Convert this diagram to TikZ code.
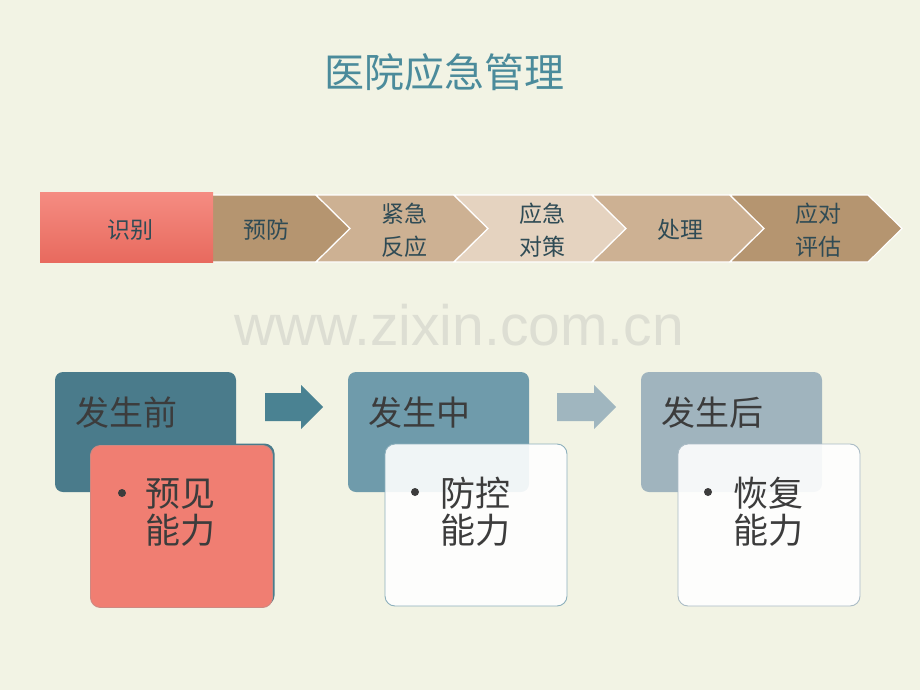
\documentclass[tikz,border=0pt]{standalone}
\usepackage{fontspec}
\setmainfont{Noto Sans CJK SC}
\newfontfamily\wmfont{Liberation Sans}
\usetikzlibrary{positioning, calc}
\definecolor{paper}{HTML}{F2F3E4}
\definecolor{titleteal}{HTML}{4B8B9B}
\definecolor{steptext}{HTML}{2F4B55}
\definecolor{coraltop}{HTML}{F58C82}
\definecolor{coralbot}{HTML}{E86A5E}
\definecolor{tandark}{HTML}{B59570}
\definecolor{tanmid}{HTML}{CDB193}
\definecolor{tanlight}{HTML}{E5D3C0}
\definecolor{tealdark}{HTML}{4A7B8B}
\definecolor{tealmid}{HTML}{6F9BAB}
\definecolor{tealpale}{HTML}{A0B4BE}
\definecolor{arrowone}{HTML}{4A8292}
\definecolor{arrowtwo}{HTML}{A0B6BF}
\definecolor{coralbox}{HTML}{F07E72}
\definecolor{bodytext}{HTML}{3C3C3C}
\definecolor{wmgray}{HTML}{DDDED3}

\begin{document}
\begin{tikzpicture}[
  x=1pt, y=-1pt,
  chev/.style={draw=white, line width=1.2pt},
  chevtxt/.style={align=center, text=steptext, font=\fontsize{23}{33}\selectfont},
  redbox/.style={minimum width=173pt, minimum height=70pt, inner sep=0pt, top color=coraltop, bottom color=coralbot},
  backbox/.style={rounded corners=8pt, minimum width=181pt, minimum height=120pt, inner sep=0pt},
  frontbox/.style={rounded corners=10pt, minimum width=182pt, minimum height=162pt, inner sep=0pt, line width=0.9pt},
  lbl/.style={anchor=west, inner sep=0pt, text=bodytext, font=\fontsize{34}{40}\selectfont},
  bodytxt/.style={anchor=west, inner sep=0pt, align=left, text=bodytext, font=\fontsize{35}{37}\selectfont},
  bulletdot/.style={circle, fill=bodytext, minimum size=8pt, inner sep=0pt}
]
  \fill[paper] (0,0) rectangle (920,690);
  \useasboundingbox (0,0) rectangle (920,690);

  % title and watermark
  \node[text=titleteal, font=\fontsize{40}{48}\selectfont] (title) at (444,72) {医院应急管理};
  \node[anchor=base, text=wmgray, font=\wmfont\fontsize{57}{60}\selectfont] (wmark) at (459,345) {www.zixin.com.cn};

  % chevron row
  \filldraw[chev, fill=tandark] (178,195) -- (316,195) -- (350,228.5) -- (316,262) -- (178,262) -- cycle;
  \foreach \i/\col in {2/tanmid, 3/tanlight, 4/tanmid, 5/tandark} {
    \pgfmathsetmacro\xl{316+138*(\i-2)}
    \pgfmathsetmacro\xr{\xl+138}
    \filldraw[chev, fill=\col] (\xl,195) -- (\xr,195) -- (\xr+34,228.5) -- (\xr,262) -- (\xl,262) -- (\xl+34,228.5) -- cycle;
  }
  \node[redbox] (shibie) at (126.5,227) {};
  \node[chevtxt] (shibietxt) at (130,230) {识别};
  \node[chevtxt] (yufang) at (266,230) {预防};
  \node[chevtxt] (jinji) at (404,230) {紧急\\反应};
  \node[chevtxt] (duice) at (542,230) {应急\\对策};
  \node[chevtxt] (chuli) at (680,230) {处理};
  \node[chevtxt] (pinggu) at (818,230) {应对\\评估};

  % before
  \node[backbox, fill=tealdark] (backA) at (145.5,432) {};
  \node[lbl] (lblA) at (75,413) {发生前};
  \node[frontbox, fill=tealdark] (shadowA) at (183.5,524.5) {};
  \node[frontbox, fill=coralbox, draw=coralbot!80!black!70] (frontA) at (181.5,526.5) {};
  \node[bulletdot] (bulA) at (122,493) {};
  \node[bodytxt] (txtA) at (145,513) {预见\\能力};

  % during
  \node[backbox, fill=tealmid] (backB) at (438.5,432) {};
  \node[lbl] (lblB) at (368,413) {发生中};
  \node[frontbox, fill=white, fill opacity=0.9, draw=tealmid!80] (frontB) at (476,525) {};
  \node[bulletdot] (bulB) at (415,492) {};
  \node[bodytxt] (txtB) at (440,512) {防控\\能力};

  % after
  \node[backbox, fill=tealpale] (backC) at (731.5,432) {};
  \node[lbl] (lblC) at (661,413) {发生后};
  \node[frontbox, fill=white, fill opacity=0.9, draw=tealpale!90] (frontC) at (769,525) {};
  \node[bulletdot] (bulC) at (708,492) {};
  \node[bodytxt] (txtC) at (733,512) {恢复\\能力};

  % block arrows
  \fill[arrowone] (265,393) -- (301,393) -- (301,385) -- (323,407) -- (301,429) -- (301,421) -- (265,421) -- cycle;
  \fill[arrowtwo] (557,393) -- (594,393) -- (594,385) -- (616,407) -- (594,429) -- (594,421) -- (557,421) -- cycle;
\end{tikzpicture}
\end{document}
